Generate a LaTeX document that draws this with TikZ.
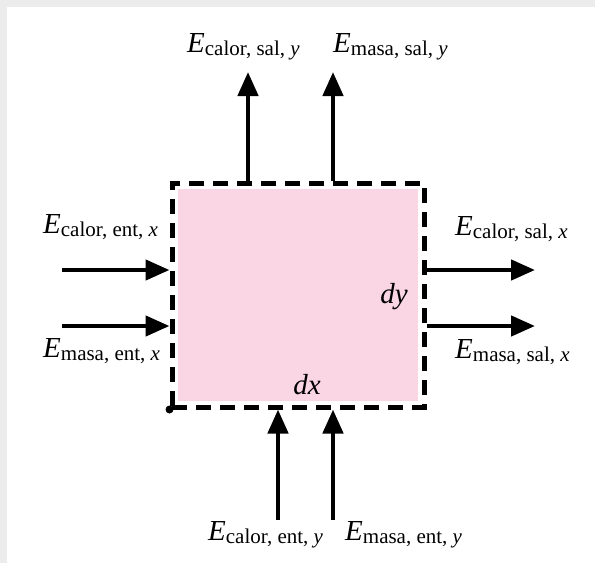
\documentclass[tikz,border=0pt]{standalone}
\usepackage{fontspec}
\setmainfont{Liberation Serif}
\usetikzlibrary{arrows.meta}
\definecolor{rosa}{RGB}{250,214,229}
\definecolor{marco}{RGB}{236,236,236}
\newcommand{\flujo}[3]{\textit{E}\raisebox{-3pt}{\fontsize{21}{24}\selectfont #1, #2, \textit{#3}}}

\begin{document}
\begin{tikzpicture}[x=1pt, y=-1pt,
  flecha/.style={line width=4.5pt, -{Triangle[length=24pt,width=20pt]}},
  etiqueta/.style={font=\fontsize{29}{32}\selectfont, inner sep=0pt}]
\useasboundingbox (0,0) rectangle (595,563);
% Frame
\fill[marco] (0,0) rectangle (595,563);
\fill[white] (7,7) rectangle (595,563);
% Control volume
\fill[rosa] (178,189) rectangle (418,401);
\node[draw, line width=5pt, dash pattern=on 15pt off 9pt, minimum width=252pt,
      minimum height=224pt, inner sep=0pt] (vol) at (298,295) {};
\fill (vol.south west) circle (4pt);
\node[etiqueta] (dy) at (394,297) {\textit{dy}};
\node[etiqueta] (dx) at (307,385) {\textit{dx}};
% Entering along x
\coordinate (ex1) at (62,270);
\coordinate (ex2) at (62,326);
\draw[flecha] (ex1) -- (ex1 -| vol.west);
\draw[flecha] (ex2) -- (ex2 -| vol.west);
\node[etiqueta, anchor=base west] (lex1) at (43,233) {\flujo{calor}{ent}{x}};
\node[etiqueta, anchor=base west] (lex2) at (43,357) {\flujo{masa}{ent}{x}};
% Leaving along x
\coordinate (sx1) at (535,270);
\coordinate (sx2) at (535,326);
\draw[flecha] (sx1 -| vol.east) -- (sx1);
\draw[flecha] (sx2 -| vol.east) -- (sx2);
\node[etiqueta, anchor=base west] (lsx1) at (455,235) {\flujo{calor}{sal}{x}};
\node[etiqueta, anchor=base west] (lsx2) at (455,358) {\flujo{masa}{sal}{x}};
% Leaving along y
\coordinate (sy1) at (248,72);
\coordinate (sy2) at (333,72);
\draw[flecha] (sy1 |- vol.north) -- (sy1);
\draw[flecha] (sy2 |- vol.north) -- (sy2);
\node[etiqueta, anchor=base west] (lsy1) at (187,52) {\flujo{calor}{sal}{y}};
\node[etiqueta, anchor=base west] (lsy2) at (333,52) {\flujo{masa}{sal}{y}};
% Entering along y
\coordinate (ey1) at (278,520);
\coordinate (ey2) at (333,520);
\draw[flecha] (ey1) -- (ey1 |- vol.south);
\draw[flecha] (ey2) -- (ey2 |- vol.south);
\node[etiqueta, anchor=base west] (ley1) at (208,540) {\flujo{calor}{ent}{y}};
\node[etiqueta, anchor=base west] (ley2) at (345,540) {\flujo{masa}{ent}{y}};
\end{tikzpicture}
\end{document}
